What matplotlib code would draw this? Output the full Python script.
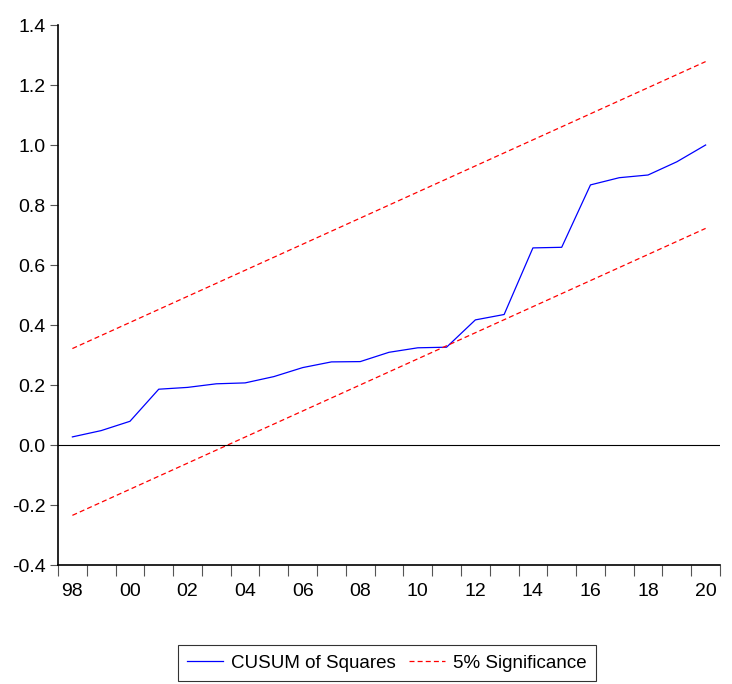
import numpy as np
import matplotlib
matplotlib.use("Agg")
import matplotlib.pyplot as plt
from matplotlib.ticker import FixedLocator

plt.rcParams['font.family'] = ['Liberation Sans Narrow', 'Liberation Sans', 'DejaVu Sans']

years = list(range(1998, 2021))
cusum_sq = [0.027, 0.048, 0.079, 0.186, 0.192, 0.204, 0.207, 0.228, 0.258, 0.277,
            0.278, 0.309, 0.324, 0.326, 0.417, 0.435, 0.657, 0.659, 0.867, 0.891,
            0.900, 0.944, 1.000]
crit = 0.278
expected = [(i + 1) / len(years) for i in range(len(years))]
upper = [e + crit for e in expected]
lower = [e - crit for e in expected]

year_labels = ["98", "00", "02", "04", "06", "08", "10", "12", "14", "16", "18", "20"]
y_ticks = [-0.4, -0.2, 0.0, 0.2, 0.4, 0.6, 0.8, 1.0, 1.2, 1.4]

W, H = 732, 684
fig = plt.figure(figsize=(W / 100, H / 100), dpi=100)
ax = fig.add_axes([58 / W, 119 / H, 662 / W, 540 / H])

ax.plot(years, cusum_sq, color='#0000ff', lw=0.9, label='CUSUM of Squares')
ax.plot(years, upper, color='#ff0000', lw=0.9, ls=(0, (4, 2.5)), label='5% Significance')
ax.plot(years, lower, color='#ff0000', lw=0.9, ls=(0, (4, 2.5)))
ax.axhline(0, color='black', lw=0.8)

ax.set_xlim(1997.5, 2020.5)
ax.set_ylim(-0.4, 1.4)

ax.spines['top'].set_visible(False)
ax.spines['right'].set_visible(False)
for s in ('left', 'bottom'):
    ax.spines[s].set_linewidth(1.2)
    ax.spines[s].set_color('black')

ax.set_yticks(y_ticks)
ax.set_yticklabels([f"{v:.1f}" for v in y_ticks])
ax.tick_params(axis='y', direction='out', length=6, width=0.8, color='#555555',
               labelsize=14, pad=3)

ax.set_xticks(years[::2])
ax.set_xticklabels(year_labels)
ax.xaxis.set_minor_locator(FixedLocator([y - 0.5 for y in years] + [years[-1] + 0.5]))
ax.tick_params(axis='x', which='major', length=0, labelsize=14, pad=13)
ax.tick_params(axis='x', which='minor', direction='out', length=8, width=0.8, color='#555555')

leg = fig.legend(loc='lower left', bbox_to_anchor=(178 / W, 3 / H), ncol=2,
                 fontsize=13.5, frameon=True, fancybox=False, edgecolor='black',
                 handlelength=1.9, columnspacing=0.7, borderpad=0.5,
                 borderaxespad=0.0, handletextpad=0.45)
leg.get_frame().set_linewidth(0.8)

fig.savefig('out.png', dpi=100)
